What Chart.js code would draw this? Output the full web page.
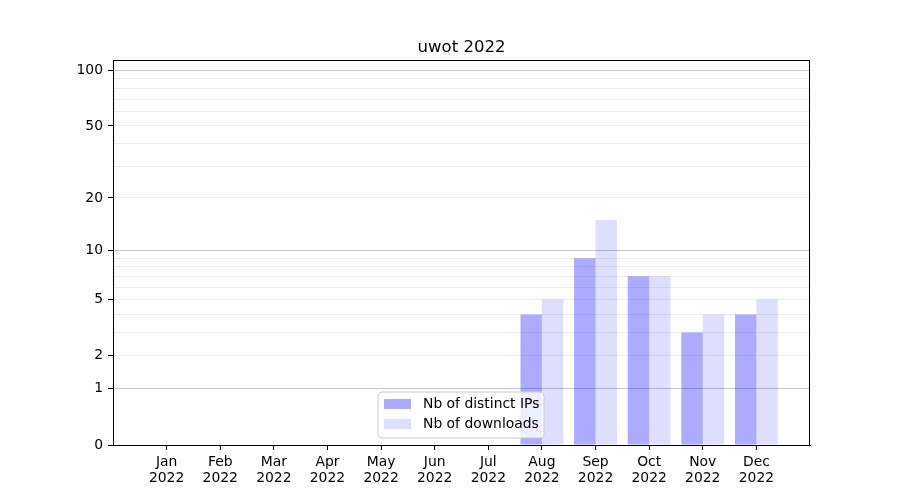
<!DOCTYPE html>
<html>
<head>
<meta charset="utf-8">
<script src="https://cdn.jsdelivr.net/npm/chart.js@4/dist/chart.umd.min.js"></script>
<style>
  body { margin: 0; background: #fff; }
  canvas { display: block; }
</style>
</head>
<body>
<canvas id="chart" width="900" height="500"></canvas>
<script>
// data
const months = ['Jan', 'Feb', 'Mar', 'Apr', 'May', 'Jun', 'Jul', 'Aug', 'Sep', 'Oct', 'Nov', 'Dec'];
const year = '2022';
const distinctIPs = [0, 0, 0, 0, 0, 0, 0, 4, 9, 7, 3, 4];
const downloads = [0, 0, 0, 0, 0, 0, 0, 5, 15, 7, 4, 5];
const labelledTicks = [0, 1, 2, 5, 10, 20, 50, 100];
const majorTicks = [1, 10, 100];
const minorTicks = [2, 3, 4, 5, 6, 7, 8, 9, 20, 30, 40, 50, 60, 70, 80, 90];

// y axis is log10(1 + v)
const toAxis = v => Math.log10(1 + v);
const fromAxis = a => Math.round(Math.pow(10, a) - 1);

const FONT = 'DejaVu Sans';

const frameAndLegend = {
    id: 'frameAndLegend',
    afterDraw(chart) {
        const c = chart.ctx;
        const a = chart.chartArea;
        c.save();
        c.strokeStyle = '#000';
        c.lineWidth = 1;
        c.strokeRect(a.left + 0.5, a.top + 0.5, a.right - a.left - 1, a.bottom - a.top);

        // title
        c.fillStyle = '#000';
        c.font = '16.5px "' + FONT + '"';
        c.textAlign = 'center';
        c.textBaseline = 'alphabetic';
        c.fillText('uwot ' + year, (a.left + a.right) / 2, 52);

        // legend box
        const bx = 378, by = 392, bw = 166, bh = 46, r = 4;
        c.beginPath();
        c.moveTo(bx + r, by);
        c.arcTo(bx + bw, by, bx + bw, by + bh, r);
        c.arcTo(bx + bw, by + bh, bx, by + bh, r);
        c.arcTo(bx, by + bh, bx, by, r);
        c.arcTo(bx, by, bx + bw, by, r);
        c.closePath();
        c.fillStyle = 'rgba(255,255,255,0.8)';
        c.fill();
        c.strokeStyle = '#cccccc';
        c.stroke();

        c.font = '13.9px "' + FONT + '"';
        c.textAlign = 'left';
        c.textBaseline = 'middle';
        chart.data.datasets.forEach((ds, i) => {
            const y = 404 + i * 20;
            c.fillStyle = ds.backgroundColor;
            c.fillRect(384, y - 5, 27, 10);
            c.fillStyle = '#000';
            c.fillText(ds.label, 423, y);
        });
        c.restore();
    }
};

new Chart(document.getElementById('chart'), {
    type: 'bar',
    data: {
        datasets: [{
            label: 'Nb of distinct IPs',
            data: distinctIPs.map((v, i) => ({ x: i, y: toAxis(v) })),
            backgroundColor: 'rgba(0,0,255,0.33)',
            borderWidth: 0
        }, {
            label: 'Nb of downloads',
            data: downloads.map((v, i) => ({ x: i, y: toAxis(v) })),
            backgroundColor: 'rgba(0,0,255,0.13)',
            borderWidth: 0
        }]
    },
    options: {
        responsive: false,
        animation: false,
        devicePixelRatio: 1,
        layout: { padding: { top: 60, right: 90, left: 0, bottom: 0 } },
        datasets: { bar: { categoryPercentage: 0.8, barPercentage: 1.0 } },
        plugins: {
            legend: { display: false },
            title: { display: false },
            tooltip: { enabled: false }
        },
        scales: {
            x: {
                type: 'linear',
                min: -1,
                max: 12,
                offset: false,
                afterBuildTicks(scale) {
                    scale.ticks = months.map((m, i) => ({ value: i }));
                },
                afterFit(scale) { scale.height = 55; },
                grid: { offset: false, drawOnChartArea: false, drawTicks: true, tickLength: 5, tickColor: '#000' },
                border: { color: '#000' },
                ticks: {
                    autoSkip: false,
                    maxRotation: 0,
                    padding: 4,
                    color: '#000',
                    font: { family: FONT, size: 13.9, lineHeight: 1.15 },
                    callback: v => [months[v], year]
                }
            },
            y: {
                type: 'linear',
                min: 0,
                max: toAxis(114),
                afterBuildTicks(scale) {
                    const vals = [0].concat(majorTicks, minorTicks).sort((p, q) => p - q);
                    scale.ticks = vals.map(v => ({ value: toAxis(v) }));
                },
                afterFit(scale) { scale.width = 113; },
                grid: {
                    drawTicks: true,
                    tickLength: 5,
                    color: ctx => {
                        const v = fromAxis(ctx.tick.value);
                        if (v === 0) return 'rgba(0,0,0,0)';
                        return majorTicks.includes(v) ? '#c8c8c8' : '#ececec';
                    },
                    tickColor: ctx => labelledTicks.includes(fromAxis(ctx.tick.value)) ? '#000' : 'rgba(0,0,0,0)'
                },
                border: { color: '#000' },
                ticks: {
                    autoSkip: false,
                    padding: 5,
                    color: '#000',
                    font: { family: FONT, size: 13.9 },
                    callback: v => {
                        const raw = fromAxis(v);
                        return labelledTicks.includes(raw) ? String(raw) : '';
                    }
                }
            }
        }
    },
    plugins: [frameAndLegend]
});
</script>
</body>
</html>
